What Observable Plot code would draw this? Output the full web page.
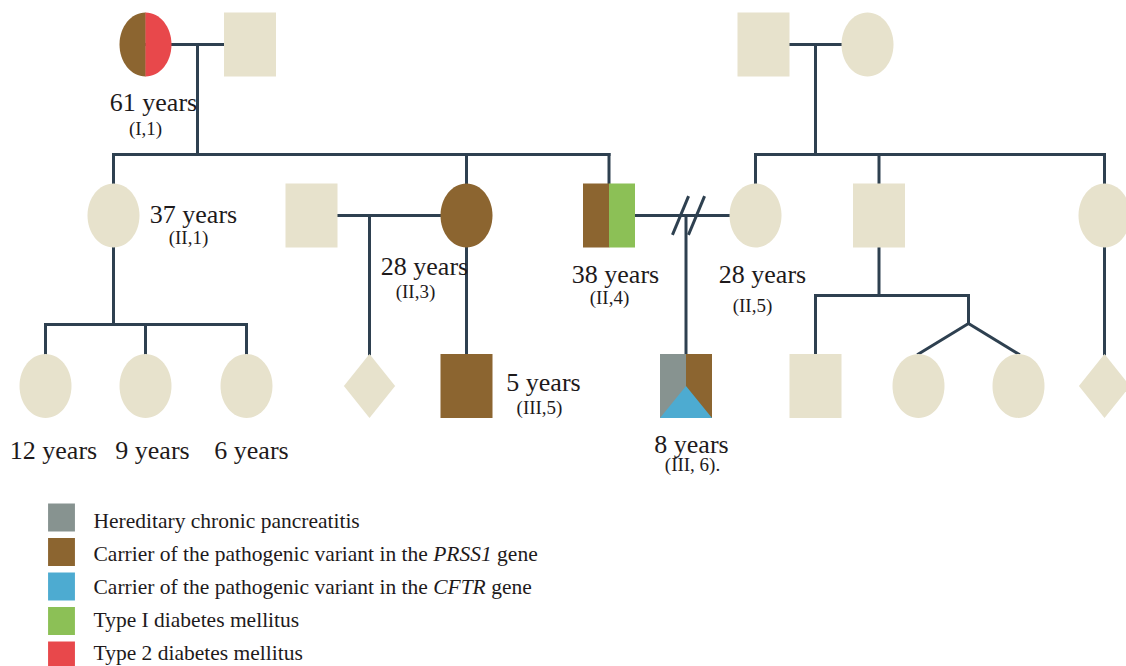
<!DOCTYPE html>
<html>
<head>
<meta charset="utf-8">
<script src="https://cdn.jsdelivr.net/npm/d3@7"></script>
<script src="https://cdn.jsdelivr.net/npm/@observablehq/plot@0.6"></script>
<style>
  html, body { margin: 0; padding: 0; background: #ffffff; }
  #chart svg { display: block; }
</style>
</head>
<body>
<div id="chart"></div>
<script>
// ---------- DATA ----------
const statuses = ["Unaffected", "HCP", "PRSS1", "CFTR", "T1DM", "T2DM"];
const statusColors = ["#E7E2CC", "#879390", "#8C6530", "#4DABD1", "#8CC056", "#E8484B"];

// pedigree individuals: generation, layout position, sex, status list
const people = [
  {id: "I-1",   gen: 1, pos: 145,   sex: "F", status: ["PRSS1", "T2DM"]},
  {id: "I-2",   gen: 1, pos: 249.5, sex: "M", status: ["Unaffected"]},
  {id: "I-3",   gen: 1, pos: 763,   sex: "M", status: ["Unaffected"]},
  {id: "I-4",   gen: 1, pos: 867,   sex: "F", status: ["Unaffected"]},
  {id: "II-1",  gen: 2, pos: 113,   sex: "F", status: ["Unaffected"]},
  {id: "II-2",  gen: 2, pos: 311,   sex: "M", status: ["Unaffected"]},
  {id: "II-3",  gen: 2, pos: 466,   sex: "F", status: ["PRSS1"]},
  {id: "II-4",  gen: 2, pos: 608.5, sex: "M", status: ["PRSS1", "T1DM"]},
  {id: "II-5",  gen: 2, pos: 755,   sex: "F", status: ["Unaffected"]},
  {id: "II-6",  gen: 2, pos: 878.5, sex: "M", status: ["Unaffected"]},
  {id: "II-7",  gen: 2, pos: 1104,  sex: "F", status: ["Unaffected"]},
  {id: "III-1", gen: 3, pos: 45,    sex: "F", status: ["Unaffected"]},
  {id: "III-2", gen: 3, pos: 145,   sex: "F", status: ["Unaffected"]},
  {id: "III-3", gen: 3, pos: 246,   sex: "F", status: ["Unaffected"]},
  {id: "III-4", gen: 3, pos: 369,   sex: "U", status: ["Unaffected"]},
  {id: "III-5", gen: 3, pos: 466,   sex: "M", status: ["PRSS1"]},
  {id: "III-6", gen: 3, pos: 685.5, sex: "M", status: ["HCP", "PRSS1", "CFTR"]},
  {id: "III-7", gen: 3, pos: 815,   sex: "M", status: ["Unaffected"]},
  {id: "III-8", gen: 3, pos: 918,   sex: "F", status: ["Unaffected"]},
  {id: "III-9", gen: 3, pos: 1018,  sex: "F", status: ["Unaffected"]},
  {id: "III-10",gen: 3, pos: 1104,  sex: "U", status: ["Unaffected"]}
];

// families: parents, descent line position, sibship line level, children
const families = [
  {parents: ["I-1", "I-2"], line: 197, sib: 154, children: ["II-1", "II-3", "II-4"]},
  {parents: ["I-3", "I-4"], line: 815, sib: 154, children: ["II-5", "II-6", "II-7"]},
  {parents: ["II-2", "II-3"], line: 369, sib: null, children: ["III-4"]},
  {parents: ["II-4", "II-5"], line: 686, sib: null, children: ["III-6"], separated: true},
  {parents: ["II-1"], line: 113, sib: 324, children: ["III-1", "III-2", "III-3"]},
  {parents: ["II-3"], line: 466, sib: null, children: ["III-5"]},
  {parents: ["II-6"], line: 878.5, sib: 295, children: ["III-7"], twins: {at: 968, level: 323, ids: ["III-8", "III-9"]}},
  {parents: ["II-7"], line: 1104, sib: null, children: ["III-10"]}
];

// labels: ages and codes, placed relative to each individual
const ageLabels = [
  {id: "I-1",   text: "61 years", dx: 8,   dy: 66},
  {id: "II-1",  text: "37 years", dx: 80,  dy: 7},
  {id: "II-3",  text: "28 years", dx: -42, dy: 59},
  {id: "II-4",  text: "38 years", dx: 6.5, dy: 67},
  {id: "II-5",  text: "28 years", dx: 7,   dy: 67},
  {id: "III-5", text: "5 years",  dx: 77,  dy: 4.5},
  {id: "III-6", text: "8 years",  dx: 5.5, dy: 66.5},
  {id: "III-1", text: "12 years", dx: 8,   dy: 72.5},
  {id: "III-2", text: "9 years",  dx: 7,   dy: 72.5},
  {id: "III-3", text: "6 years",  dx: 5,   dy: 72.5}
];
const codeLabels = [
  {id: "I-1",   text: "(I,1)",      dx: 0,   dy: 90},
  {id: "II-1",  text: "(II,1)",     dx: 75,  dy: 28},
  {id: "II-3",  text: "(II,3)",     dx: -51, dy: 82},
  {id: "II-4",  text: "(II,4)",     dx: 0.5, dy: 88},
  {id: "II-5",  text: "(II,5)",     dx: -3,  dy: 96},
  {id: "III-5", text: "(III,5)",    dx: 73,  dy: 28},
  {id: "III-6", text: "(III, 6).",  dx: 6.5, dy: 85}
];

// legend
const legendStatuses = ["HCP", "PRSS1", "CFTR", "T1DM", "T2DM"];
const legendLabels = [
  "Hereditary chronic pancreatitis",
  "Carrier of the pathogenic variant in the PRSS1 gene",
  "Carrier of the pathogenic variant in the CFTR gene",
  "Type I diabetes mellitus",
  "Type 2 diabetes mellitus"
];
const italicTerms = ["PRSS1", "CFTR"];

// ---------- LAYOUT ----------
const genLevel = {1: 44, 2: 215, 3: 385.5};
const HALF = 32;            // half-height of a symbol
const ASPECT = 26 / 32;     // half-width / half-height
const byId = new Map(people.map(p => [p.id, p]));

// custom symbols (size = r*r*PI)
const K = 0.5523;
const rOf = size => Math.sqrt(size / Math.PI);
const symbols = {
  ellipse: {draw(c, s) { const ry = rOf(s), rx = ry * ASPECT;
    c.moveTo(rx, 0);
    c.bezierCurveTo(rx, K * ry, K * rx, ry, 0, ry);
    c.bezierCurveTo(-K * rx, ry, -rx, K * ry, -rx, 0);
    c.bezierCurveTo(-rx, -K * ry, -K * rx, -ry, 0, -ry);
    c.bezierCurveTo(K * rx, -ry, rx, -K * ry, rx, 0);
    c.closePath(); }},
  ellipseL: {draw(c, s) { const ry = rOf(s), rx = ry * ASPECT;
    c.moveTo(0.3, -ry);
    c.lineTo(0, -ry);
    c.bezierCurveTo(-K * rx, -ry, -rx, -K * ry, -rx, 0);
    c.bezierCurveTo(-rx, K * ry, -K * rx, ry, 0, ry);
    c.lineTo(0.3, ry);
    c.closePath(); }},
  ellipseR: {draw(c, s) { const ry = rOf(s), rx = ry * ASPECT;
    c.moveTo(0, -ry);
    c.bezierCurveTo(K * rx, -ry, rx, -K * ry, rx, 0);
    c.bezierCurveTo(rx, K * ry, K * rx, ry, 0, ry);
    c.closePath(); }},
  square: {draw(c, s) { const ry = rOf(s), rx = ry * ASPECT;
    c.moveTo(-rx, -ry); c.lineTo(rx, -ry); c.lineTo(rx, ry); c.lineTo(-rx, ry); c.closePath(); }},
  squareL: {draw(c, s) { const ry = rOf(s), rx = ry * ASPECT;
    c.moveTo(-rx, -ry); c.lineTo(0.3, -ry); c.lineTo(0.3, ry); c.lineTo(-rx, ry); c.closePath(); }},
  squareR: {draw(c, s) { const ry = rOf(s), rx = ry * ASPECT;
    c.moveTo(0, -ry); c.lineTo(rx, -ry); c.lineTo(rx, ry); c.lineTo(0, ry); c.closePath(); }},
  triangle: {draw(c, s) { const ry = rOf(s), rx = ry * ASPECT;
    c.moveTo(0, 0); c.lineTo(rx, ry); c.lineTo(-rx, ry); c.closePath(); }},
  diamond: {draw(c, s) { const ry = rOf(s), rx = ry * 0.8;
    c.moveTo(0, -ry); c.lineTo(rx, 0); c.lineTo(0, ry); c.lineTo(-rx, 0); c.closePath(); }},
  box: {draw(c, s) { const ry = rOf(s), rx = ry * 0.96;
    c.moveTo(-rx, -ry); c.lineTo(rx, -ry); c.lineTo(rx, ry); c.lineTo(-rx, ry); c.closePath(); }}
};
const shapeOrder = ["ellipse", "ellipseL", "ellipseR", "square", "squareL", "squareR", "diamond", "triangle"];

// pieces of each individual's symbol
const pieces = [];
for (const p of people) {
  const y = genLevel[p.gen];
  let shapes;
  if (p.sex === "U") shapes = ["diamond"];
  else if (p.sex === "F") shapes = p.status.length === 1 ? ["ellipse"] : ["ellipseL", "ellipseR"];
  else shapes = p.status.length === 1 ? ["square"] : p.status.length === 2 ? ["squareL", "squareR"] : ["squareL", "squareR", "triangle"];
  shapes.forEach((s, i) => pieces.push({x: p.pos, y, shape: s, status: p.status[i]}));
}

// connecting lines
const segs = [];
for (const f of families) {
  const ps = f.parents.map(id => byId.get(id));
  const py = genLevel[ps[0].gen];
  let top;
  if (ps.length === 2) {
    segs.push({x1: ps[0].pos, y1: py, x2: ps[1].pos, y2: py});
    top = py;
  } else top = py + HALF;
  const kids = f.children.map(id => byId.get(id));
  if (f.sib == null) {
    for (const k of kids) segs.push({x1: k.pos, y1: top, x2: k.pos, y2: genLevel[k.gen] - HALF});
  } else {
    segs.push({x1: f.line, y1: top, x2: f.line, y2: f.sib});
    const xs = [f.line, ...kids.map(k => k.pos)];
    if (f.twins) xs.push(f.twins.at);
    segs.push({x1: d3.min(xs), y1: f.sib, x2: d3.max(xs), y2: f.sib});
    for (const k of kids) segs.push({x1: k.pos, y1: f.sib, x2: k.pos, y2: genLevel[k.gen] - HALF});
    if (f.twins) {
      segs.push({x1: f.twins.at, y1: f.sib, x2: f.twins.at, y2: f.twins.level});
      for (const id of f.twins.ids) {
        const t = byId.get(id);
        segs.push({x1: f.twins.at, y1: f.twins.level, x2: t.pos, y2: genLevel[t.gen] - HALF});
      }
    }
  }
  if (f.separated) {
    for (const off of [-6, 10]) {
      segs.push({x1: f.line + off - 7.5, y1: py + 18, x2: f.line + off + 7.5, y2: py - 18});
    }
  }
}

const placed = (arr) => arr.map(d => {
  const p = byId.get(d.id);
  return {...d, x: p.pos + d.dx, y: genLevel[p.gen] + d.dy};
});

const legendRows = legendStatuses.map((s, i) => ({status: s, label: legendLabels[i], row: i}));
const legendBoxY = i => 517 + i * 34.5;
const legendTextY = i => 527 + i * 33;

const textColor = "#1E1A1B";
const lineColor = "#2E4050";

const chart = Plot.plot({
  width: 1126,
  height: 666,
  margin: 0,
  x: {domain: [0, 1126], range: [0, 1126], axis: null},
  y: {domain: [0, 666], range: [0, 666], axis: null},
  color: {type: "ordinal", domain: statuses, range: statusColors},
  style: {fontFamily: "'Liberation Serif', 'Times New Roman', serif", background: "#ffffff", color: textColor},
  marks: [
    Plot.link(segs, {x1: "x1", y1: "y1", x2: "x2", y2: "y2", stroke: lineColor, strokeWidth: 3, strokeLinecap: "square"}),
    ...shapeOrder.map(s => Plot.dot(pieces.filter(d => d.shape === s), {
      x: "x", y: "y", r: HALF, symbol: symbols[s], fill: "status", stroke: "none"
    })),
    Plot.text(placed(ageLabels), {x: "x", y: "y", text: "text", fontSize: 26, textAnchor: "middle", lineAnchor: "bottom", fill: textColor}),
    Plot.text(placed(codeLabels), {x: "x", y: "y", text: "text", fontSize: 19, textAnchor: "middle", lineAnchor: "bottom", fill: textColor}),
    Plot.dot(legendRows, {x: () => 61, y: d => legendBoxY(d.row), r: 14, symbol: symbols.box, fill: "status", stroke: "none"}),
    Plot.text(legendRows, {x: () => 93, y: d => legendTextY(d.row), text: "label", fontSize: 21.5, textAnchor: "start", lineAnchor: "bottom", fill: textColor})
  ]
});

// italicize gene names in legend
d3.select(chart).selectAll("text").each(function() {
  const t = this.textContent;
  const term = italicTerms.find(w => t.includes(w));
  if (!term) return;
  const [a, b] = t.split(term);
  const sel = d3.select(this);
  sel.text(null);
  sel.append("tspan").text(a);
  sel.append("tspan").attr("font-style", "italic").text(term);
  sel.append("tspan").text(b);
});

document.getElementById("chart").appendChild(chart);
</script>
</body>
</html>
